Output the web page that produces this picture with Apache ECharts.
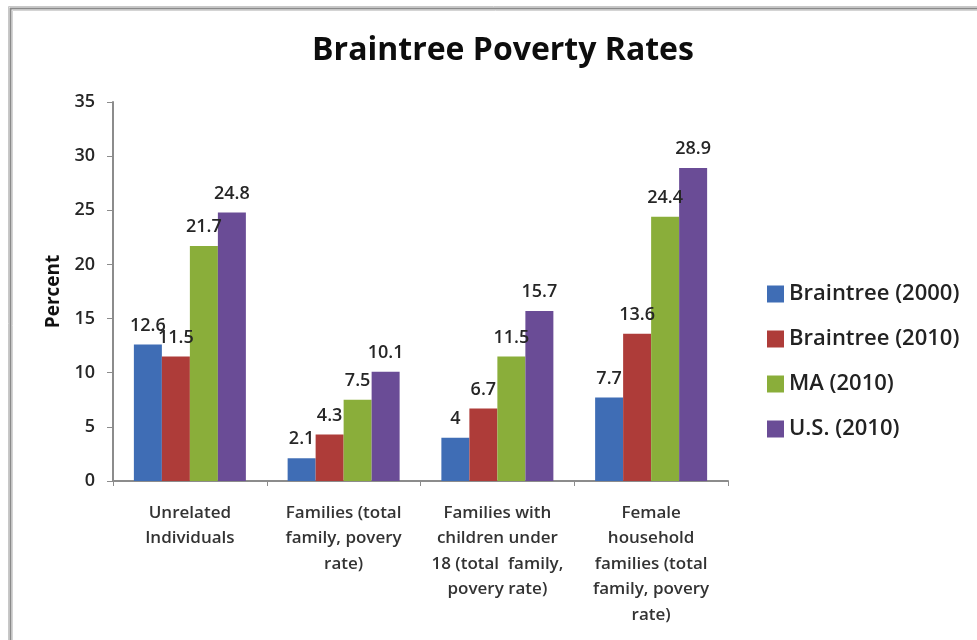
<!DOCTYPE html>
<html>
<head>
<meta charset="utf-8">
<script src="https://cdn.jsdelivr.net/npm/echarts@6/dist/echarts.min.js"></script>
<style>
  html, body { margin: 0; padding: 0; background: #fff; }
  #main { width: 977px; height: 640px; }
</style>
</head>
<body>
<div id="main"></div>
<script>
var categories = [
    'Unrelated\nIndividuals',
    'Families (total\nfamily, povery\nrate)',
    'Families with\nchildren under\n18 (total  family,\npovery rate)',
    'Female\nhousehold\nfamilies (total\nfamily, povery\nrate)'
];
var seriesNames = ['Braintree (2000)', 'Braintree (2010)', 'MA (2010)', 'U.S. (2010)'];
var braintree2000 = [12.6, 2.1, 4, 7.7];
var braintree2010 = [11.5, 4.3, 6.7, 13.6];
var ma2010 = [21.7, 7.5, 11.5, 24.4];
var us2010 = [24.8, 10.1, 15.7, 28.9];
var colors = ['#3f6db5', '#ae3c39', '#8aae3a', '#6a4c96'];
var yTicks = [0, 35, 5]; // min, max, interval

var font = '"Open Sans", "Liberation Sans", sans-serif';
var chart = echarts.init(document.getElementById('main'));

function makeSeries(name, data, color) {
    return {
        name: name,
        type: 'bar',
        data: data,
        barWidth: 28,
        barGap: '0%',
        barCategoryGap: '27%',
        itemStyle: { color: color },
        label: {
            show: true,
            position: 'top',
            distance: 10,
            fontFamily: font,
            fontSize: 18,
            fontWeight: 600,
            color: '#262626'
        }
    };
}

chart.setOption({
    backgroundColor: '#fff',
    animation: false,
    color: colors,
    title: {
        text: 'Braintree Poverty Rates',
        left: 498,
        textAlign: 'center',
        top: 30,
        textStyle: { fontFamily: font, fontSize: 32, fontWeight: 'bold', color: '#0d0d0d' }
    },
    legend: {
        orient: 'vertical',
        left: 762,
        top: 278,
        itemWidth: 17,
        itemHeight: 17,
        itemGap: 23,
        icon: 'rect',
        textStyle: { fontFamily: font, fontSize: 22, fontWeight: 600, color: '#222' },
        data: seriesNames
    },
    graphic: [
        { type: 'polyline', shape: { points: [[8.5, 700], [8.5, 6.5], [1000, 6.5]] }, style: { stroke: '#c8c8c8', lineWidth: 1, fill: null } },
        { type: 'polyline', shape: { points: [[10.5, 700], [10.5, 8.5], [1000, 8.5]] }, style: { stroke: '#8a8a8a', lineWidth: 2, fill: null } },
        { type: 'polyline', shape: { points: [[12.5, 700], [12.5, 10.5], [1000, 10.5]] }, style: { stroke: '#d4d4d4', lineWidth: 1, fill: null } }
    ],
    grid: {
        left: 113,
        right: 249,
        top: 102,
        bottom: 159
    },
    xAxis: {
        type: 'category',
        data: categories,
        axisLine: { lineStyle: { color: '#8c8c8c', width: 2 } },
        axisTick: { show: true, length: 5, lineStyle: { color: '#8c8c8c' } },
        axisLabel: {
            interval: 0,
            margin: 19,
            fontFamily: font,
            fontSize: 17,
            fontWeight: 600,
            lineHeight: 25.5,
            color: '#333',
            align: 'center'
        }
    },
    yAxis: {
        type: 'value',
        min: yTicks[0],
        max: yTicks[1],
        interval: yTicks[2],
        name: 'Percent',
        nameLocation: 'middle',
        nameGap: 47,
        nameTextStyle: { fontFamily: font, fontSize: 19, fontWeight: 'bold', color: '#111' },
        axisLine: { show: true, lineStyle: { color: '#8c8c8c', width: 2 } },
        axisTick: { show: true, length: 6, lineStyle: { color: '#8c8c8c' } },
        splitLine: { show: false },
        axisLabel: {
            margin: 18,
            fontFamily: font,
            fontSize: 18,
            fontWeight: 600,
            color: '#262626'
        }
    },
    series: [
        makeSeries(seriesNames[0], braintree2000, colors[0]),
        makeSeries(seriesNames[1], braintree2010, colors[1]),
        makeSeries(seriesNames[2], ma2010, colors[2]),
        makeSeries(seriesNames[3], us2010, colors[3])
    ]
});
</script>
</body>
</html>
